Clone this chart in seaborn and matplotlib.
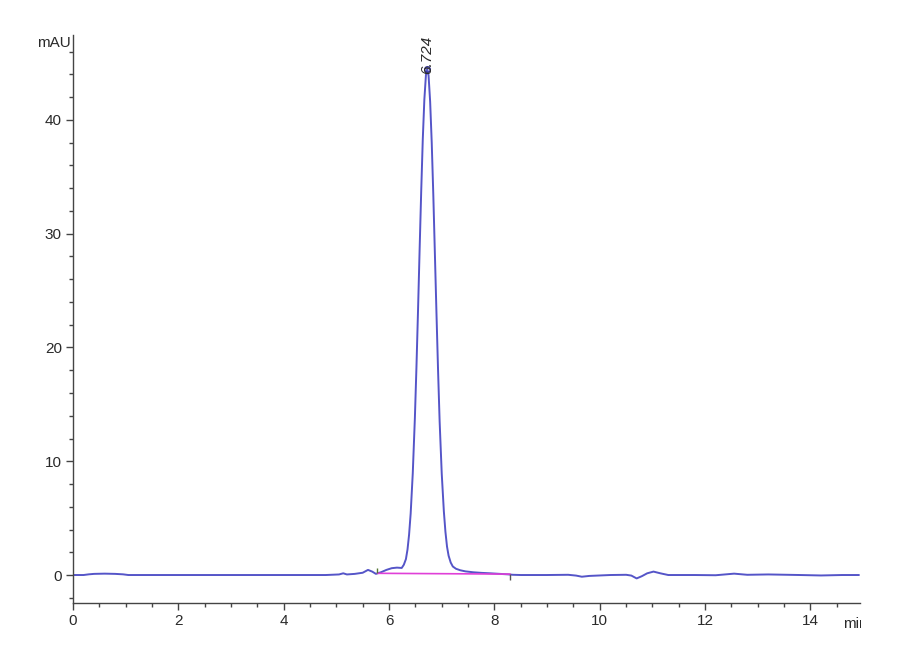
import numpy as np
import pandas as pd
import matplotlib
matplotlib.use("Agg")
import matplotlib.pyplot as plt
from matplotlib.ticker import MultipleLocator
from matplotlib.transforms import Bbox, TransformedBbox
import seaborn as sns

# Chromatogram trace (retention time in min, signal in mAU)
time_min = [0.0, 0.2, 0.3, 0.4, 0.6, 0.8, 0.95, 1.05, 2.0, 3.0, 4.0, 4.8, 5.05, 5.13, 5.2,
            5.35, 5.5, 5.6, 5.68, 5.75, 5.85, 5.95, 6.05, 6.15, 6.24, 6.28, 6.32,
            6.35, 6.38, 6.41, 6.45, 6.49, 6.52, 6.55, 6.58, 6.61, 6.64, 6.67, 6.70,
            6.724, 6.75, 6.78, 6.81, 6.84, 6.87, 6.90, 6.93, 6.96, 7.00, 7.04, 7.07,
            7.10, 7.13, 7.17, 7.21, 7.27, 7.35, 7.45, 7.6, 7.75, 7.92, 8.1, 8.25,
            8.35, 8.5, 9.0, 9.4, 9.55, 9.66, 9.8, 10.0, 10.2, 10.5, 10.6, 10.7,
            10.8, 10.9, 11.02, 11.15, 11.3, 11.8, 12.2, 12.55, 12.8, 13.2, 13.8,
            14.2, 14.6, 14.92]
signal_mau = [0.0, 0.0, 0.06, 0.1, 0.12, 0.1, 0.06, 0.0, 0.0, 0.0, 0.0, 0.0, 0.05, 0.15, 0.05,
              0.1, 0.2, 0.45, 0.3, 0.1, 0.25, 0.45, 0.6, 0.65, 0.62, 0.9, 1.4,
              2.24, 3.55, 5.4, 8.95, 13.8, 18.3, 23.3, 28.6, 33.7, 38.3, 41.8, 43.96,
              44.5, 43.9, 41.6, 38.0, 33.4, 28.2, 23.0, 18.0, 13.5, 8.9, 5.6, 3.8,
              2.5, 1.7, 1.1, 0.75, 0.55, 0.42, 0.32, 0.24, 0.19, 0.15, 0.1, 0.06,
              0.02, 0.0, 0.0, 0.02, -0.05, -0.15, -0.08, -0.04, 0.0, 0.02, -0.05, -0.3,
              -0.1, 0.15, 0.3, 0.15, 0.0, 0.0, -0.02, 0.12, 0.02, 0.05, 0.0,
              -0.04, 0.0, 0.0]

# Integration baseline (start / end)
base_time = [5.78, 8.30]
base_mau = [0.15, 0.08]

peak_time = 6.724
peak_height = 44.5
peak_label = "6.724"

x_ticks = [0, 2, 4, 6, 8, 10, 12, 14]
y_ticks = [0, 10, 20, 30, 40]

trace_color = "#5555c8"
base_color = "#e040d8"
ink = "#2a2a2a"

sns.set_style("ticks")
plt.rcParams["font.family"] = ["Liberation Sans Narrow", "Liberation Sans", "DejaVu Sans"]

df = pd.DataFrame({"time": time_min, "mAU": signal_mau})

fig = plt.figure(figsize=(9, 6.6), dpi=100)
ax = fig.add_axes([73 / 900, 57 / 660, (860 - 73) / 900, (625 - 57) / 660])

sns.lineplot(data=df, x="time", y="mAU", ax=ax, color=trace_color, linewidth=1.4,
             sort=False, estimator=None)
ax.plot(base_time, base_mau, color=base_color, linewidth=1.2)

# integration start / end marks
ax.vlines(base_time[0], 0.2, 0.65, color="#557733", linewidth=1.0)
ax.vlines(base_time[1], -0.45, 0.05, color="#555555", linewidth=1.0)

# apex marker and label
ax.plot([peak_time], [peak_height], marker="o", markersize=4, markerfacecolor="none",
        markeredgecolor="#303090", markeredgewidth=1.0)
ax.text(peak_time, peak_height - 0.5, peak_label, rotation=90, ha="center", va="bottom",
        fontsize=11, style="italic", color=ink)

ax.set_xlim(0, 14.94)
ax.set_ylim(-2.46, 47.47)
ax.set_xticks(x_ticks)
ax.set_yticks(y_ticks)
ax.xaxis.set_minor_locator(MultipleLocator(0.5))
ax.yaxis.set_minor_locator(MultipleLocator(2))
ax.set_xlabel("")
ax.set_ylabel("")

sns.despine(ax=ax)
for side in ["left", "bottom"]:
    ax.spines[side].set_color("#444444")
    ax.spines[side].set_linewidth(1.0)
ax.tick_params(axis="both", which="major", length=5, width=1.0, color="#444444",
               labelsize=11, labelcolor=ink, pad=3)
ax.tick_params(axis="both", which="minor", length=3, width=1.0, color="#444444")

fig.text(37 / 900, 1 - 43 / 660, "mAU", fontsize=11, color=ink, ha="left", va="center")
unit = fig.text(843 / 900, 1 - 624 / 660, "min", fontsize=11, color=ink, ha="left", va="center")
# the original export is cut off just after the axis end
unit.set_clip_box(TransformedBbox(Bbox([[0, 0], [861 / 900, 1]]), fig.transFigure))
unit.set_clip_on(True)

fig.savefig("out.png", dpi=100)
